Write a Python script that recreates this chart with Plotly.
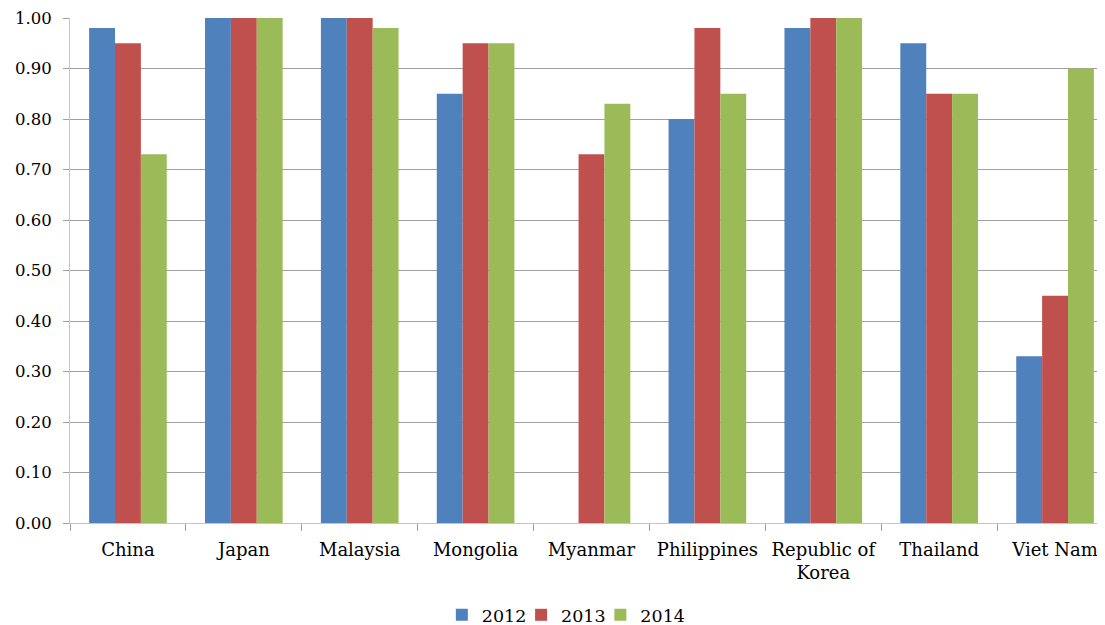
import plotly.graph_objects as go

categories = ["China", "Japan", "Malaysia", "Mongolia", "Myanmar", "Philippines",
              "Republic of<br>Korea", "Thailand", "Viet Nam"]
years = ["2012", "2013", "2014"]
v2012 = [0.98, 1.00, 1.00, 0.85, None, 0.80, 0.98, 0.95, 0.33]
v2013 = [0.95, 1.00, 1.00, 0.95, 0.73, 0.98, 1.00, 0.85, 0.45]
v2014 = [0.73, 1.00, 0.98, 0.95, 0.83, 0.85, 1.00, 0.85, 0.90]
tick_vals = [0, 0.1, 0.2, 0.3, 0.4, 0.5, 0.6, 0.7, 0.8, 0.9, 1.0]

colors = ["#4F81BD", "#C0504D", "#9BBB59"]
series = [v2012, v2013, v2014]
legend_ids = ["legend", "legend2", "legend3"]
legend_x = [0.3565, 0.4325, 0.5085]

fig = go.Figure()
for name, vals, c, lg in zip(years, series, colors, legend_ids):
    fig.add_trace(go.Bar(x=categories, y=vals, name=name, marker_color=c,
                         marker_line=dict(color=c, width=0), legend=lg))

legend_font = dict(family="DejaVu Serif", size=17.5, color="#000000")
legend_common = dict(orientation="h", xanchor="left", y=-0.182, yanchor="middle",
                     font=legend_font, itemwidth=30, bgcolor="rgba(0,0,0,0)")

fig.update_layout(
    width=1105, height=625,
    margin=dict(l=62, r=0, t=10, b=110),
    paper_bgcolor="white", plot_bgcolor="white",
    barmode="group", bargap=0.33, bargroupgap=0,
    font=dict(family="DejaVu Serif", size=16, color="#000000"),
    showlegend=True,
    legend=dict(x=legend_x[0], **legend_common),
    legend2=dict(x=legend_x[1], **legend_common),
    legend3=dict(x=legend_x[2], **legend_common),
    yaxis=dict(range=[0, 1.0], tickvals=tick_vals, tickformat=".2f",
               showgrid=True, gridcolor="#A0A0A0", gridwidth=1,
               showline=True, linecolor="#C4C4C4", linewidth=1,
               ticks="outside", ticklen=6, tickcolor="#A0A0A0",
               zeroline=False, ticklabelstandoff=8, automargin=False,
               tickfont=dict(family="DejaVu Serif", size=16.5)),
    xaxis=dict(showline=True, linecolor="#C4C4C4", linewidth=1,
               ticks="outside", ticklen=7, tickcolor="#A0A0A0",
               tickson="boundaries", showgrid=False, ticklabelstandoff=10,
               automargin=False,
               tickfont=dict(family="DejaVu Serif", size=18)),
)

fig.write_html("out.html")
